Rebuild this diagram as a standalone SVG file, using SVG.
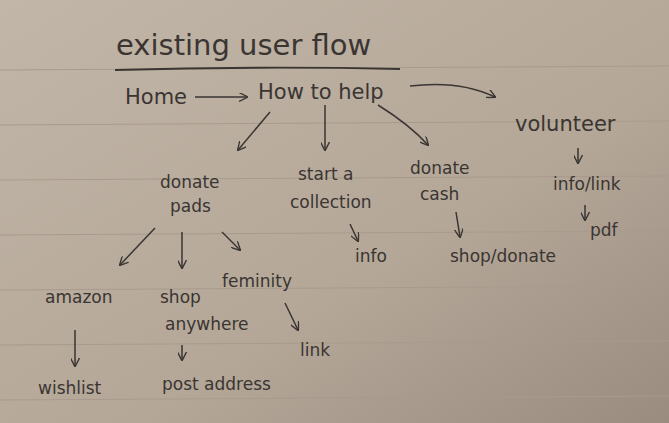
<svg xmlns="http://www.w3.org/2000/svg" width="669" height="423" viewBox="0 0 669 423">
<defs>
<linearGradient id="bg" x1="0" y1="0" x2="1" y2="1">
<stop offset="0" stop-color="#c2b6a8"/><stop offset="0.6" stop-color="#b4a798"/><stop offset="1" stop-color="#9a8d80"/>
</linearGradient>
<marker id="ah" viewBox="0 0 10 10" refX="9" refY="5" markerWidth="9" markerHeight="9" orient="auto-start-reverse" markerUnits="userSpaceOnUse">
<path d="M0,0 L10,5 L0,10" fill="none" stroke="#3a3532" stroke-width="1.5"/>
</marker>
<style>
text{font-family:"DejaVu Sans",sans-serif;fill:#3a3532;font-size:17px}
text.t{font-size:29px}
text.h{font-size:21px}
.c path{fill:none;stroke:#3a3532;stroke-width:1.5;marker-end:url(#ah)}
.rule{stroke:#a89b8d;stroke-width:1}
</style>
</defs>
<rect width="669" height="423" fill="url(#bg)"/>
<g>
<line class="rule" x1="0" y1="70" x2="669" y2="66"/>
<line class="rule" x1="0" y1="125" x2="669" y2="121"/>
<line class="rule" x1="0" y1="180" x2="669" y2="176"/>
<line class="rule" x1="0" y1="235" x2="669" y2="231"/>
<line class="rule" x1="0" y1="290" x2="669" y2="286"/>
<line class="rule" x1="0" y1="345" x2="669" y2="341"/>
<line class="rule" x1="0" y1="400" x2="669" y2="396"/>
</g>
<g id="title"><text class="t" x="116" y="55">existing user flow</text>
<path d="M115,70 Q260,66 400,69" stroke="#3a3532" stroke-width="1.8" fill="none"/></g>
<g id="home"><text class="h" x="125" y="104">Home</text></g>
<g id="howtohelp"><text class="h" x="258" y="99">How to help</text></g>
<g id="volunteer"><text class="h" x="515" y="131">volunteer</text></g>
<g id="infolink"><text x="553" y="190">info/link</text></g>
<g id="pdf"><text x="590" y="236">pdf</text></g>
<g id="donatepads"><text x="160" y="188">donate</text><text x="170" y="212">pads</text></g>
<g id="collection"><text x="298" y="180">start a</text><text x="290" y="208">collection</text></g>
<g id="donatecash"><text x="410" y="174">donate</text><text x="420" y="200">cash</text></g>
<g id="info"><text x="355" y="262">info</text></g>
<g id="shopdonate"><text x="450" y="262">shop/donate</text></g>
<g id="amazon"><text x="45" y="303">amazon</text></g>
<g id="shopanywhere"><text x="160" y="303">shop</text><text x="165" y="330">anywhere</text></g>
<g id="feminity"><text x="222" y="287">feminity</text></g>
<g id="wishlist"><text x="38" y="394">wishlist</text></g>
<g id="postaddress"><text x="162" y="390">post address</text></g>
<g id="link"><text x="300" y="356">link</text></g>
<g class="c">
<path d="M195,97 L247,97"/>
<path d="M410,86 Q460,80 495,97"/>
<path d="M578,148 L578,163"/>
<path d="M585,205 L585,220"/>
<path d="M270,112 L238,150"/>
<path d="M325,105 L325,150"/>
<path d="M378,105 Q410,125 428,145"/>
<path d="M350,224 L358,241"/>
<path d="M456,212 L460,237"/>
<path d="M155,228 L120,265"/>
<path d="M182,232 L182,268"/>
<path d="M222,232 L240,250"/>
<path d="M75,330 L75,366"/>
<path d="M182,345 L182,360"/>
<path d="M285,303 L298,330"/>
</g>
</svg>
